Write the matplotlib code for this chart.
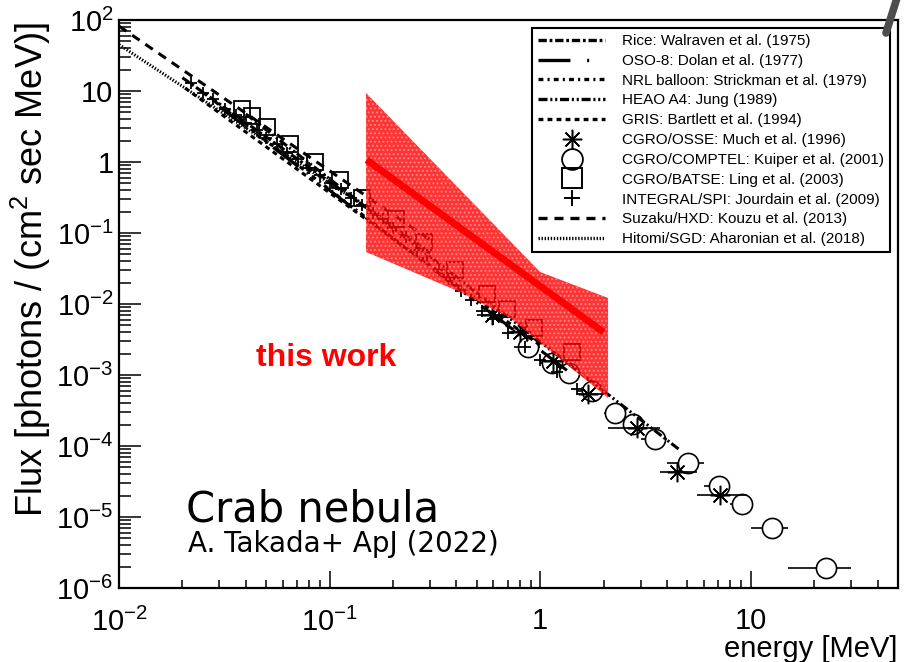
import matplotlib
matplotlib.use('Agg')
import matplotlib.pyplot as plt
import numpy as np
from matplotlib.lines import Line2D
from matplotlib.patches import Polygon
from matplotlib.ticker import FixedLocator, FixedFormatter, LogLocator, NullFormatter

plt.rcParams['font.family'] = ['Liberation Sans', 'DejaVu Sans']
plt.rcParams['mathtext.fontset'] = 'custom'
plt.rcParams['mathtext.rm'] = 'Liberation Sans'
plt.rcParams['mathtext.it'] = 'Liberation Sans:italic'
plt.rcParams['mathtext.default'] = 'regular'
plt.rcParams['lines.scale_dashes'] = False
plt.rcParams['hatch.linewidth'] = 1.0

# power-law spectra from earlier measurements: energy range [MeV] and flux at both ends
model_labels = ['Rice: Walraven et al. (1975)', 'OSO-8: Dolan et al. (1977)',
                'NRL balloon: Strickman et al. (1979)', 'HEAO A4: Jung (1989)',
                'GRIS: Bartlett et al. (1994)']
model_e_lo = [0.02, 0.03, 0.025, 0.04, 0.0206]
model_e_hi = [0.3, 1.5, 0.8, 4.6, 1.0]
model_f_lo = [15.4, 6.0, 9.6, 4.74, 11.0]
model_f_hi = [0.0525, 9.0e-4, 3.6e-3, 8.8e-5, 2.61e-3]

late_labels = ['Suzaku/HXD: Kouzu et al. (2013)', 'Hitomi/SGD: Aharonian et al. (2018)']
late_e_lo = [0.01, 0.01]
late_e_hi = [0.3, 0.2]
late_f_lo = [82.0, 45.0]
late_f_hi = [0.080, 0.13]

point_labels = ['CGRO/OSSE: Much et al. (1996)', 'CGRO/COMPTEL: Kuiper et al. (2001)',
                'CGRO/BATSE: Ling et al. (2003)', 'INTEGRAL/SPI: Jourdain et al. (2009)']

# CGRO/OSSE
osse_e = [0.59, 0.802, 1.15, 1.69, 2.88, 4.46, 7.14]
osse_e_lo = [0.5, 0.7, 1.0, 1.5, 2.1, 3.7, 5.55]
osse_e_hi = [0.7, 0.9, 1.3, 2.0, 3.7, 5.55, 9.6]
osse_f = [7.0e-3, 4.04e-3, 1.57e-3, 5.40e-4, 1.79e-4, 4.31e-5, 2.04e-5]

# CGRO/COMPTEL
comptel_e = [0.875, 1.14, 1.37, 1.76, 2.27, 2.76, 3.51, 5.03, 7.06, 9.08, 12.6, 22.8]
comptel_e_lo = [0.75, 1.0, 1.25, 1.5, 2.0, 2.5, 3.0, 4.0, 6.0, 8.0, 10.0, 15.0]
comptel_e_hi = [1.0, 1.25, 1.5, 2.0, 2.5, 3.0, 4.0, 6.0, 8.0, 10.0, 15.0, 30.0]
comptel_f = [2.48e-3, 1.48e-3, 1.07e-3, 5.96e-4, 2.92e-4, 2.04e-4, 1.26e-4,
             5.77e-5, 2.74e-5, 1.52e-5, 7.0e-6, 1.91e-6]

# CGRO/BATSE
batse_e = [0.0384, 0.0429, 0.0505, 0.0649, 0.0853, 0.112, 0.143, 0.207, 0.281,
           0.394, 0.558, 0.695, 0.936, 1.42]
batse_f = [5.57, 4.4, 3.11, 1.79, 1.00, 0.557, 0.311, 0.157, 0.0746, 0.0301,
           0.0138, 8.5e-3, 4.59e-3, 2.11e-3]

# INTEGRAL/SPI
spi_e = [0.022, 0.025, 0.028, 0.032, 0.036, 0.040, 0.045, 0.050, 0.056, 0.063,
         0.071, 0.080, 0.090, 0.100, 0.113, 0.127, 0.143, 0.16, 0.18, 0.20,
         0.23, 0.26, 0.29, 0.33, 0.37, 0.42, 0.47, 0.53, 0.60, 0.70, 0.85,
         1.0, 1.2, 1.5]
spi_f = [12.9, 9.4, 7.8, 5.6, 4.6, 3.5, 2.86, 2.19, 1.81, 1.35, 1.09, 0.82,
         0.66, 0.51, 0.41, 0.31, 0.25, 0.19, 0.155, 0.118, 0.087, 0.058, 0.044,
         0.030, 0.0225, 0.0150, 0.0115, 0.0079, 0.0061, 0.0039, 0.0025,
         0.00165, 0.00112, 0.00064]

# this work: best-fit power law and its uncertainty band
this_e = [0.15, 2.0]
this_f = [1.07, 4.0e-3]
band_e_upper = [0.149, 1.0, 2.10]
band_f_upper = [9.37, 0.0282, 0.01216]
band_e_lower = [0.149, 0.416, 0.719, 2.10]
band_f_lower = [0.0540, 0.01476, 6.35e-3, 4.74e-4]

y_ticks = [1e-6, 1e-5, 1e-4, 1e-3, 1e-2, 1e-1, 1, 10, 100]
y_ticklabels = ['$10^{-6}$', '$10^{-5}$', '$10^{-4}$', '$10^{-3}$', '$10^{-2}$',
                '$10^{-1}$', '1', '10', '$10^{2}$']
x_ticks = [0.01, 0.1, 1, 10]
x_ticklabels = ['$10^{-2}$', '$10^{-1}$', '1', '10']

model_dashes = [(6, 2, 2, 2), (23, 12, 1.5, 12), (3.5, 3, 1.5, 3),
                (6.5, 2, 1.5, 2, 1.5, 2), (3.5, 3)]
late_dashes = [(6.5, 5), (1.0, 1.2)]

fig = plt.figure(figsize=(9.06, 6.62), dpi=100)
ax = fig.add_axes([119 / 906, 74 / 662, 779 / 906, 568 / 662])
ax.set_xscale('log')
ax.set_yscale('log')
ax.set_xlim(0.01, 50)
ax.set_ylim(1e-6, 100)

# COMPTEL: bars first, then white circles hide the part inside
ax.errorbar(comptel_e, comptel_f,
            xerr=[np.subtract(comptel_e, comptel_e_lo), np.subtract(comptel_e_hi, comptel_e)],
            fmt='none', ecolor='k', elinewidth=1.2, capsize=0, zorder=2)
ax.plot(comptel_e, comptel_f, ls='none', marker='o', ms=14.5, mfc='white',
        mec='k', mew=1.2, zorder=3)

line_handles = []
for lo, hi, flo, fhi, d in zip(model_e_lo + late_e_lo, model_e_hi + late_e_hi,
                               model_f_lo + late_f_lo, model_f_hi + late_f_hi,
                               model_dashes + late_dashes):
    ax.plot([lo, hi], [flo, fhi], color='k', lw=2.2, linestyle=(0, d), zorder=4)
    line_handles.append(Line2D([], [], color='k', lw=2.4, linestyle=(0, d)))

ax.errorbar(osse_e, osse_f,
            xerr=[np.subtract(osse_e, osse_e_lo), np.subtract(osse_e_hi, osse_e)],
            fmt='none', ecolor='k', elinewidth=1.2, capsize=0, zorder=4)
ax.plot(osse_e, osse_f, ls='none', marker=(8, 2, 0), ms=14, mec='k', mew=1.1, zorder=4)
ax.plot(batse_e, batse_f, ls='none', marker='s', ms=11, mfc='none', mec='k',
        mew=1.3, zorder=4)
ax.plot(spi_e, spi_f, ls='none', marker='+', ms=8, mec='k', mew=1.3, zorder=4)

# uncertainty band drawn over the data, then the best fit
band_x = band_e_upper + band_e_lower[::-1]
band_y = band_f_upper + band_f_lower[::-1]
ax.add_patch(Polygon(np.column_stack([band_x, band_y]), closed=True,
                     facecolor=(1, 0.0, 0.0, 0.8), edgecolor=(1, 1, 1, 0.35),
                     hatch='....', lw=0, zorder=5))
ax.plot(this_e, this_f, color='#ff0000', lw=5, solid_capstyle='butt', zorder=6)

ax.yaxis.set_major_locator(FixedLocator(y_ticks))
ax.yaxis.set_major_formatter(FixedFormatter(y_ticklabels))
ax.xaxis.set_major_locator(FixedLocator(x_ticks))
ax.xaxis.set_major_formatter(FixedFormatter(x_ticklabels))
for axis in (ax.xaxis, ax.yaxis):
    axis.set_minor_locator(LogLocator(base=10, subs=np.arange(2, 10), numticks=20))
    axis.set_minor_formatter(NullFormatter())
ax.tick_params(axis='y', which='major', direction='in', length=16, width=1.1,
               labelsize=21, pad=4)
ax.tick_params(axis='y', which='minor', direction='in', length=8.5, width=1.1)
ax.tick_params(axis='x', which='major', direction='in', length=12, width=1.1,
               labelsize=21, pad=14)
ax.tick_params(axis='x', which='minor', direction='in', length=6, width=1.1)
for s in ax.spines.values():
    s.set_linewidth(1.6)

fig.text(31 / 906, 1 - 270 / 662, 'Flux [photons / (cm$^{2}$ sec MeV)]',
         rotation=90, ha='center', va='center', fontsize=26)
fig.text(897 / 906, 1 - 649 / 662, 'energy [MeV]', ha='right', va='center', fontsize=21)

ax.text(0.266, 0.405, 'this work', transform=ax.transAxes, color='#ff0000',
        fontsize=23, fontweight='bold', ha='center', va='center', zorder=7)
fig.text(186 / 906, 1 - 510 / 662, 'Crab nebula', family='DejaVu Sans',
         fontsize=30, ha='left', va='center')
fig.text(188 / 906, 1 - 544 / 662, 'A. Takada+ ApJ (2022)', family='DejaVu Sans',
         fontsize=20, ha='left', va='center')

point_handles = [Line2D([], [], ls='none', marker=(8, 2, 0), ms=14, mec='k', mew=1.1),
                 Line2D([], [], ls='none', marker='o', ms=15, mfc='none', mec='k', mew=1.3),
                 Line2D([], [], ls='none', marker='s', ms=14, mfc='none', mec='k', mew=1.4),
                 Line2D([], [], ls='none', marker='+', ms=11, mec='k', mew=1.4)]
handles = line_handles[:5] + point_handles + line_handles[5:]
labels = model_labels + point_labels + late_labels
leg = ax.legend(handles, labels, loc='upper right', bbox_to_anchor=(0.990, 0.986),
                fontsize=11, frameon=True, fancybox=False, edgecolor='k',
                framealpha=1, borderpad=0.4, labelspacing=0.38, handlelength=4.4,
                handletextpad=1.1, borderaxespad=0)
leg.get_frame().set_linewidth(1.5)
leg.set_zorder(8)

fig.add_artist(Line2D([897 / 906, 886 / 906], [1 + 2 / 662, 1 - 33 / 662],
                      transform=fig.transFigure, lw=5.5, color='#4d4d4d',
                      solid_capstyle='round'))

fig.savefig('out.png', dpi=100)
